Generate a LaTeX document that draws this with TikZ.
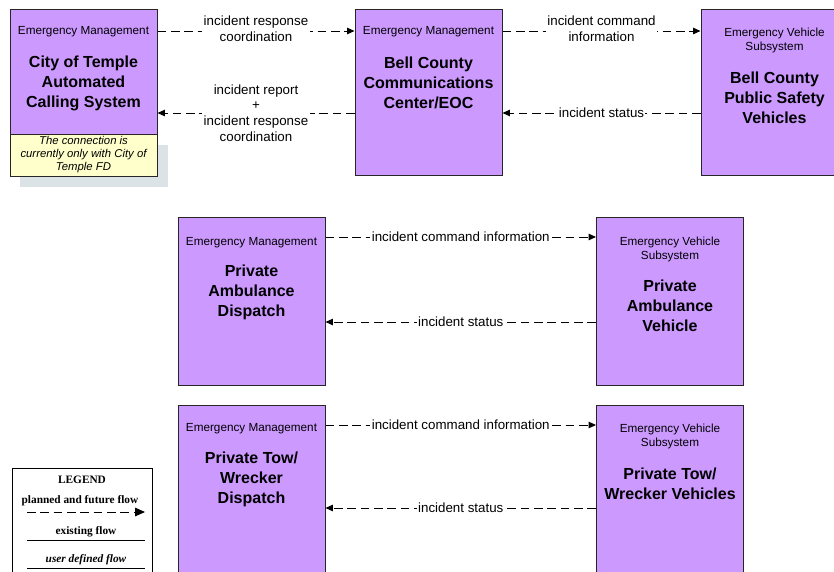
\documentclass[tikz,border=0pt]{standalone}
\usepackage{fontspec}
\setmainfont{Liberation Sans}
\newfontfamily\legendfont{Liberation Serif}
\usepackage{xcolor}
\usetikzlibrary{arrows.meta}
\definecolor{unitpurple}{RGB}{204,153,255}
\definecolor{noteyellow}{RGB}{255,255,204}
\definecolor{shadowgray}{RGB}{220,227,231}
\tikzset{
  unit/.style={draw=black!85, line width=0.75pt, fill=unitpurple, minimum width=110.25pt, inner sep=0pt},
  cls/.style={font=\fontsize{8.8}{10.5}\selectfont, align=center, inner sep=0pt},
  ttl/.style={font=\fontsize{12}{15}\selectfont\bfseries, align=center, inner sep=0pt},
  flow/.style={dash pattern=on 6.5pt off 3.5pt, line width=0.75pt, -{Triangle[length=5.5pt,width=4.8pt]}},
  flowlbl/.style={fill=white, inner sep=1pt, font=\fontsize{10}{11.7}\selectfont, align=center},
  leg/.style={font=\legendfont\fontsize{8.5}{10}\selectfont\bfseries, inner sep=0pt}
}

\begin{document}
\begin{tikzpicture}[x=0.75pt, y=-0.75pt]
  \useasboundingbox (0,0) rectangle (834,571);

  % top row
  \node[unit, minimum height=93.75pt] (cot) at (83.5,71.5) {};
  \fill[shadowgray] (20,145) rectangle (168,187);
  \node[draw=black!85, line width=0.75pt, fill=noteyellow, minimum width=110.25pt, minimum height=31.5pt,
        inner sep=0pt, font=\fontsize{8.5}{9.75}\selectfont\itshape, align=center] (note) at (83.5,155)
        {The connection is\\currently only with City of\\Temple FD};
  \node[cls] (cot-cls) at (83.5,32) {Emergency Management};
  \node[ttl] (cot-ttl) at (83.5,83) {City of Temple\\Automated\\Calling System};

  \node[unit, minimum height=124.5pt] (bcc) at (428.5,92) {};
  \node[cls] (bcc-cls) at (428.5,32) {Emergency Management};
  \node[ttl] (bcc-ttl) at (428.5,83) {Bell County\\Communications\\Center/EOC};

  \node[unit, minimum height=124.5pt] (psv) at (774.5,92) {};
  \node[cls] (psv-cls) at (774.5,40.5) {Emergency Vehicle\\Subsystem};
  \node[ttl] (psv-ttl) at (774.5,97.5) {Bell County\\Public Safety\\Vehicles};

  \draw[flow] (cot.east |- 0,31) -- node[flowlbl, yshift=1.5pt] (f1) {incident response\\coordination} (bcc.west |- 0,31);
  \draw[flow] (bcc.west |- 0,113) -- node[flowlbl] (f2) {incident report\\+\\incident response\\coordination} (cot.east |- 0,113);
  \draw[flow] (bcc.east |- 0,31) -- node[flowlbl, yshift=1.5pt] (f3) {incident command\\information} (psv.west |- 0,31);
  \draw[flow] (psv.west |- 0,113) -- node[flowlbl] (f4) {incident status} (bcc.east |- 0,113);

  % ambulance row
  \node[unit, minimum height=126pt] (amd) at (251.5,301) {};
  \node[cls] (amd-cls) at (251.5,243) {Emergency Management};
  \node[ttl] (amd-ttl) at (251.5,292.5) {Private\\Ambulance\\Dispatch};

  \node[unit, minimum height=126pt] (amv) at (670,301) {};
  \node[cls] (amv-cls) at (670,249.5) {Emergency Vehicle\\Subsystem};
  \node[ttl] (amv-ttl) at (670,306) {Private\\Ambulance\\Vehicle};

  \draw[flow] (amd.east |- 0,237) -- node[flowlbl] (f5) {incident command information} (amv.west |- 0,237);
  \draw[flow] (amv.west |- 0,322) -- node[flowlbl] (f6) {incident status} (amd.east |- 0,322);

  % tow row
  \node[unit, minimum height=126pt] (twd) at (251.5,489) {};
  \node[cls] (twd-cls) at (251.5,429) {Emergency Management};
  \node[ttl] (twd-ttl) at (251.5,479.5) {Private Tow/\\Wrecker\\Dispatch};

  \node[unit, minimum height=126pt] (twv) at (670,489) {};
  \node[cls] (twv-cls) at (670,436) {Emergency Vehicle\\Subsystem};
  \node[ttl] (twv-ttl) at (670,484) {Private Tow/\\Wrecker Vehicles};

  \draw[flow] (twd.east |- 0,425) -- node[flowlbl] (f7) {incident command information} (twv.west |- 0,425);
  \draw[flow] (twv.west |- 0,508) -- node[flowlbl] (f8) {incident status} (twd.east |- 0,508);

  % legend
  \node[draw=black, line width=0.75pt, minimum width=105pt, minimum height=81pt, inner sep=0pt] (legend) at (82,522) {};
  \node[leg] (leg-t) at (82,480) {LEGEND};
  \node[leg] (leg-p) at (80,501) {planned and future flow};
  \draw[flow, -{Triangle[length=7.5pt,width=6.5pt]}] (27,512) -- (145,512);
  \node[leg] (leg-e) at (86,532) {existing flow};
  \draw[line width=0.75pt] (27,540) -- (145,540);
  \node[leg, font=\legendfont\fontsize{8.5}{10}\selectfont\bfseries\itshape] (leg-u) at (86,560) {user defined flow};
  \draw[line width=0.75pt] (27,568) -- (145,568);
\end{tikzpicture}
\end{document}
